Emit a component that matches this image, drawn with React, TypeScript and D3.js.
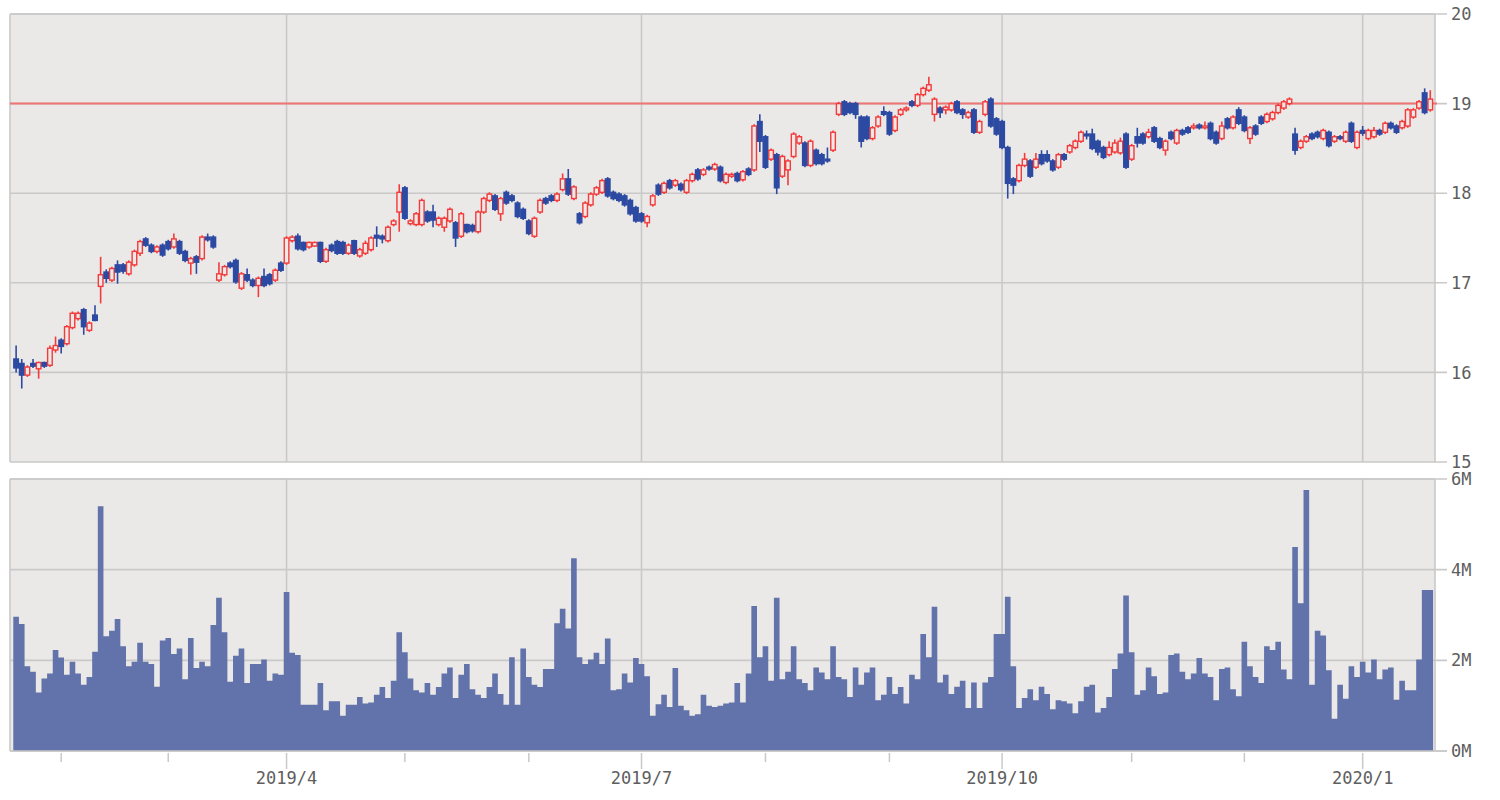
import React from "react";
import * as d3 from "d3";

// ---- Daily data (252 trading days, 2019/1/22 .. 2020/1/21) ----
const openP = [
  16.15,16.10,15.97,16.10,16.04,16.11,16.08,16.25,16.36,16.32,
  16.50,16.60,16.70,16.47,16.64,16.96,17.12,17.03,17.20,17.20,
  17.10,17.20,17.33,17.49,17.42,17.35,17.42,17.46,17.40,17.46,
  17.35,17.22,17.29,17.27,17.51,17.51,17.03,17.09,17.22,17.25,
  16.94,17.09,17.03,16.97,17.07,17.09,17.03,17.22,17.22,17.47,
  17.52,17.45,17.40,17.41,17.45,17.24,17.42,17.46,17.45,17.33,
  17.47,17.30,17.33,17.37,17.53,17.52,17.47,17.65,17.79,18.06,
  17.66,17.65,17.65,17.79,17.79,17.65,17.62,17.69,17.67,17.52,
  17.65,17.64,17.57,17.79,17.92,17.97,17.77,18.01,17.97,17.89,
  17.82,17.69,17.52,17.79,17.94,17.97,17.92,18.04,18.16,17.94,
  17.77,17.74,17.87,17.99,18.01,18.16,18.01,17.99,17.97,17.92,
  17.84,17.77,17.67,17.87,18.09,18.01,18.14,18.09,18.10,18.01,
  18.14,18.26,18.21,18.29,18.27,18.29,18.12,18.19,18.22,18.15,
  18.27,18.26,18.80,18.63,18.38,18.43,18.19,18.26,18.41,18.56,
  18.56,18.31,18.48,18.43,18.38,18.48,18.88,19.02,19.00,19.00,
  18.85,18.85,18.61,18.75,18.91,18.90,18.70,18.88,18.93,19.02,
  18.98,19.10,19.15,18.88,18.95,18.93,18.93,19.02,18.93,18.85,
  18.93,18.68,18.88,19.05,18.83,18.80,18.51,18.16,18.14,18.31,
  18.36,18.29,18.43,18.43,18.36,18.29,18.43,18.46,18.51,18.58,
  18.66,18.66,18.58,18.51,18.43,18.46,18.45,18.66,18.38,18.63,
  18.66,18.63,18.73,18.61,18.48,18.68,18.56,18.70,18.73,18.73,
  18.76,18.73,18.78,18.68,18.61,18.83,18.73,18.93,18.85,18.61,
  18.75,18.85,18.80,18.83,18.90,18.95,19.00,18.66,18.51,18.58,
  18.66,18.68,18.61,18.68,18.58,18.63,18.58,18.78,18.51,18.70,
  18.61,18.63,18.70,18.68,18.78,18.75,18.73,18.75,18.85,18.95,
  19.12,18.93,
];
const highP = [
  16.30,16.15,16.08,16.15,16.12,16.12,16.30,16.40,16.38,16.53,
  16.68,16.68,16.72,16.57,16.75,17.29,17.15,17.18,17.25,17.22,
  17.25,17.37,17.48,17.51,17.44,17.42,17.44,17.48,17.55,17.48,
  17.37,17.29,17.31,17.53,17.55,17.53,17.23,17.20,17.24,17.27,
  17.12,17.16,17.05,17.07,17.16,17.11,17.16,17.24,17.52,17.53,
  17.55,17.46,17.46,17.46,17.46,17.39,17.44,17.48,17.47,17.44,
  17.48,17.39,17.47,17.52,17.63,17.54,17.64,17.71,18.10,18.08,
  17.71,17.79,17.94,17.81,17.87,17.74,17.74,17.84,17.69,17.79,
  17.66,17.66,17.81,17.96,18.01,17.99,17.96,18.03,17.99,17.91,
  17.84,17.71,17.74,17.94,17.96,17.99,18.01,18.22,18.27,18.09,
  17.79,17.91,18.01,18.08,18.16,18.18,18.03,18.01,17.99,17.94,
  17.86,17.79,17.76,17.99,18.11,18.13,18.16,18.16,18.12,18.16,
  18.23,18.28,18.28,18.31,18.34,18.31,18.23,18.23,18.24,18.26,
  18.29,18.77,18.88,18.65,18.50,18.45,18.43,18.38,18.68,18.65,
  18.58,18.60,18.50,18.45,18.51,18.70,19.02,19.04,19.02,19.02,
  18.87,18.87,18.75,18.87,18.97,18.92,18.87,18.95,18.97,19.04,
  19.12,19.19,19.30,19.07,18.97,18.98,19.02,19.04,18.95,18.92,
  18.95,18.82,19.04,19.07,18.85,18.82,18.53,18.18,18.33,18.45,
  18.38,18.45,18.48,18.48,18.38,18.45,18.45,18.55,18.60,18.70,
  18.70,18.72,18.60,18.53,18.58,18.60,18.62,18.68,18.55,18.73,
  18.68,18.72,18.75,18.63,18.60,18.70,18.72,18.72,18.75,18.78,
  18.78,18.80,18.80,18.70,18.80,18.85,18.87,18.96,18.87,18.75,
  18.77,18.87,18.90,18.92,19.00,19.04,19.07,18.73,18.60,18.65,
  18.68,18.70,18.72,18.70,18.65,18.65,18.70,18.80,18.70,18.75,
  18.72,18.74,18.72,18.80,18.80,18.77,18.82,18.95,18.95,19.04,
  19.17,19.15,
];
const lowP = [
  16.00,15.82,15.95,16.05,15.93,16.05,16.06,16.22,16.21,16.30,
  16.48,16.58,16.42,16.45,16.57,16.77,17.00,17.01,16.99,17.10,
  17.08,17.18,17.30,17.40,17.33,17.33,17.29,17.36,17.38,17.31,
  17.23,17.09,17.10,17.25,17.46,17.38,17.01,17.07,17.16,16.99,
  16.92,17.01,16.95,16.84,16.95,16.97,17.01,17.12,17.20,17.45,
  17.36,17.35,17.38,17.40,17.22,17.22,17.34,17.31,17.31,17.31,
  17.31,17.28,17.31,17.35,17.40,17.44,17.45,17.63,17.57,17.70,
  17.64,17.63,17.63,17.67,17.62,17.63,17.57,17.67,17.40,17.50,
  17.55,17.56,17.55,17.77,17.90,17.80,17.69,17.87,17.90,17.72,
  17.70,17.53,17.50,17.77,17.87,17.90,17.90,18.02,17.97,17.92,
  17.65,17.72,17.85,17.97,17.99,17.95,17.92,17.90,17.85,17.75,
  17.67,17.67,17.62,17.85,17.97,17.99,18.04,18.07,18.02,17.99,
  18.12,18.14,18.19,18.25,18.25,18.12,18.10,18.17,18.12,18.13,
  18.19,18.24,18.46,18.27,18.36,17.99,18.17,18.09,18.39,18.54,
  18.29,18.29,18.31,18.31,18.34,18.46,18.86,18.86,18.88,18.83,
  18.51,18.59,18.59,18.73,18.86,18.64,18.68,18.86,18.91,18.96,
  18.96,19.08,19.13,18.80,18.84,18.88,18.91,18.88,18.83,18.83,
  18.66,18.66,18.86,18.73,18.64,18.49,17.94,17.99,18.12,18.29,
  18.17,18.27,18.31,18.34,18.24,18.27,18.36,18.44,18.49,18.56,
  18.60,18.48,18.42,18.38,18.41,18.44,18.43,18.27,18.36,18.51,
  18.54,18.61,18.56,18.49,18.42,18.59,18.54,18.64,18.66,18.71,
  18.71,18.71,18.59,18.54,18.59,18.71,18.71,18.76,18.68,18.55,
  18.64,18.76,18.78,18.81,18.88,18.93,18.98,18.43,18.49,18.56,
  18.59,18.61,18.59,18.51,18.56,18.59,18.56,18.56,18.49,18.64,
  18.59,18.61,18.64,18.66,18.71,18.66,18.71,18.73,18.83,18.93,
  18.88,18.91,
];
const closeP = [
  16.05,15.97,16.06,16.07,16.11,16.07,16.27,16.30,16.29,16.51,
  16.66,16.66,16.51,16.55,16.58,17.09,17.05,17.16,17.12,17.13,
  17.23,17.35,17.46,17.42,17.35,17.40,17.31,17.38,17.49,17.33,
  17.25,17.27,17.23,17.51,17.48,17.40,17.10,17.18,17.18,17.01,
  17.10,17.03,16.97,17.05,16.97,16.99,17.14,17.14,17.50,17.51,
  17.38,17.37,17.45,17.45,17.24,17.37,17.36,17.33,17.33,17.42,
  17.33,17.37,17.44,17.50,17.50,17.49,17.62,17.69,18.01,17.72,
  17.69,17.77,17.92,17.69,17.70,17.72,17.72,17.82,17.50,17.77,
  17.57,17.58,17.79,17.94,17.99,17.82,17.94,17.89,17.92,17.74,
  17.72,17.55,17.72,17.92,17.89,17.92,17.99,18.16,17.99,18.07,
  17.67,17.89,17.99,18.06,18.14,17.97,17.94,17.92,17.87,17.77,
  17.69,17.69,17.74,17.97,17.99,18.11,18.06,18.14,18.04,18.14,
  18.21,18.16,18.26,18.27,18.32,18.14,18.21,18.21,18.14,18.24,
  18.21,18.75,18.58,18.29,18.48,18.06,18.41,18.36,18.66,18.63,
  18.31,18.58,18.33,18.33,18.36,18.68,19.00,18.88,18.90,18.88,
  18.58,18.61,18.73,18.85,18.88,18.66,18.85,18.93,18.95,18.98,
  19.10,19.17,19.21,19.05,18.90,18.96,19.00,18.90,18.88,18.90,
  18.68,18.80,19.02,18.75,18.66,18.51,18.11,18.09,18.31,18.38,
  18.19,18.38,18.33,18.36,18.26,18.43,18.38,18.53,18.58,18.68,
  18.64,18.50,18.46,18.40,18.51,18.56,18.58,18.29,18.53,18.56,
  18.56,18.68,18.58,18.51,18.58,18.61,18.70,18.66,18.68,18.75,
  18.73,18.75,18.61,18.56,18.75,18.73,18.85,18.78,18.70,18.73,
  18.66,18.78,18.88,18.90,18.98,19.02,19.05,18.48,18.58,18.63,
  18.61,18.63,18.70,18.53,18.63,18.61,18.68,18.58,18.68,18.67,
  18.70,18.70,18.66,18.78,18.73,18.68,18.80,18.93,18.93,19.02,
  18.90,19.05,
];
// volume in millions of shares
const volumeM = [
  2.96,2.80,1.87,1.75,1.29,1.60,1.71,2.23,2.06,1.68,
  1.97,1.71,1.46,1.63,2.19,5.40,2.53,2.65,2.91,2.31,
  1.87,1.97,2.39,1.97,1.92,1.42,2.44,2.49,2.14,2.26,
  1.58,2.49,1.83,1.97,1.87,2.78,3.38,2.62,1.53,2.10,
  2.26,1.50,1.92,1.92,2.02,1.55,1.71,1.68,3.51,2.17,
  2.12,1.02,1.02,1.02,1.50,0.90,1.10,1.10,0.78,1.02,
  1.02,1.19,1.05,1.07,1.24,1.41,1.17,1.55,2.62,2.18,
  1.60,1.34,1.29,1.50,1.24,1.41,1.71,1.84,1.17,1.68,
  1.92,1.36,1.24,1.17,1.41,1.71,1.26,1.02,2.07,1.02,
  2.26,1.63,1.46,1.41,1.81,1.81,2.82,3.14,2.70,4.25,
  2.07,1.92,2.02,2.17,1.92,2.48,1.34,1.36,1.71,1.51,
  2.05,1.92,1.65,0.78,1.03,1.24,0.97,1.83,1.00,0.90,
  0.78,0.81,1.24,1.00,0.97,1.00,1.05,1.07,1.50,1.07,
  1.71,3.20,2.07,2.31,1.55,3.38,1.58,1.75,2.31,1.58,
  1.50,1.34,1.84,1.73,1.58,2.31,1.63,1.58,1.19,1.84,
  1.46,1.73,1.84,1.12,1.24,1.63,1.26,1.41,1.05,1.68,
  1.58,2.58,2.07,3.18,1.51,1.68,1.26,1.42,1.55,0.95,
  1.51,0.95,1.51,1.63,2.58,2.58,3.40,1.87,0.95,1.17,
  1.36,1.12,1.42,1.26,0.92,1.12,1.10,1.05,0.83,1.10,
  1.42,1.46,0.85,0.95,1.19,1.81,2.15,3.43,2.18,1.24,
  1.34,1.84,1.65,1.26,1.29,2.12,2.15,1.75,1.58,1.71,
  2.05,1.71,1.63,1.12,1.81,1.84,1.36,1.21,2.41,1.87,
  1.63,1.50,2.31,2.23,2.41,1.80,1.58,4.50,3.26,5.76,
  1.46,2.65,2.55,1.78,0.71,1.46,1.15,1.87,1.63,1.97,
  1.73,2.02,1.58,1.80,1.84,1.13,1.55,1.34,1.34,2.02,
  3.55,3.55,
];
// index of first trading day of each month, and labels (quarters only)
const monthTickIdx = [8, 27, 48, 69, 91, 111, 133, 155, 175, 198, 218, 239];
const monthTickLabels = ["", "", "2019/4", "", "", "2019/7", "", "", "2019/10", "", "", "2020/1"];
const priceTicks = [15, 16, 17, 18, 19, 20];
const volumeTicks = [0, 2, 4, 6];
const refLevel = 19;

const BG = "#ebe9e7";
const GRID = "#c9c9c9";
const UP = "#f23b3b";
const DOWN = "#2c4aa2";
const VOL = "#6272aa";
const TXT = "#5e5e5e";
const FONT = "'DejaVu Sans Mono', 'Liberation Mono', monospace";

export default function App() {
  const L = 10, R = 1435;
  const pTop = 14, pBot = 462, vTop = 479, vBot = 751;
  const n = openP.length;
  const idx = d3.range(n);

  const x = d3.scaleBand<number>().domain(idx).range([13.3, 1433.1]).padding(0);
  const bw = x.bandwidth();
  const cx = (i: number) => (x(i) as number) + bw / 2;
  const y = d3.scaleLinear().domain([15, 20]).range([pBot, pTop]);
  const yv = d3.scaleLinear().domain([0, 6]).range([vBot, vTop]);

  const body = 4.6;
  const quarterIdx = monthTickIdx.filter((_, k) => monthTickLabels[k] !== "");

  // volume as one stepped area (no seams between bars)
  const volPts: [number, number][] = idx.map((i) => [x(i) as number, volumeM[i]]);
  volPts.push([(x(n - 1) as number) + bw, volumeM[n - 1]]);
  const volArea = d3
    .area<[number, number]>()
    .x((d) => d[0])
    .y0(vBot)
    .y1((d) => yv(d[1]))
    .curve(d3.curveStepAfter)(volPts) as string;

  return (
    <svg
      width={1500}
      height={800}
      style={{ position: "absolute", left: 0, top: 0, background: "#fff" }}
    >
      {/* ---------- price panel ---------- */}
      <rect x={L} y={pTop} width={R - L} height={pBot - pTop} fill={BG} />
      {priceTicks.map((t) => (
        <line key={"pg" + t} x1={L} x2={R + 12} y1={y(t)} y2={y(t)} stroke={GRID} strokeWidth={1.6} />
      ))}
      {quarterIdx.map((i) => (
        <line key={"pv" + i} x1={cx(i)} x2={cx(i)} y1={pTop} y2={pBot} stroke={GRID} strokeWidth={1.6} />
      ))}
      <line x1={L} x2={R} y1={pTop} y2={pTop} stroke={GRID} strokeWidth={1.6} />
      <line x1={L} x2={L} y1={pTop} y2={pBot} stroke={GRID} strokeWidth={1.6} />
      <line x1={R} x2={R} y1={pTop} y2={pBot} stroke={GRID} strokeWidth={1.6} />
      <line x1={L} x2={R + 2} y1={y(refLevel)} y2={y(refLevel)} stroke="#f07474" strokeWidth={2} />

      {idx.map((i) => {
        const o = openP[i], c = closeP[i], h = highP[i], l = lowP[i];
        const up = c >= o;
        const col = up ? UP : DOWN;
        const top = y(Math.max(o, c));
        const hgt = Math.max(1.5, y(Math.min(o, c)) - top);
        return (
          <g key={"c" + i}>
            <line x1={cx(i)} x2={cx(i)} y1={y(h)} y2={y(l)} stroke={col} strokeWidth={1.6} />
            <rect
              x={cx(i) - body / 2}
              y={top}
              width={body}
              height={hgt}
              fill={up ? BG : col}
              stroke={col}
              strokeWidth={1.4}
            />
          </g>
        );
      })}

      {priceTicks.map((t) => (
        <text
          key={"pl" + t}
          x={1451}
          y={y(t)}
          dy="0.36em"
          fontFamily={FONT}
          fontSize={17}
          fill={TXT}
        >
          {t}
        </text>
      ))}

      {/* ---------- volume panel ---------- */}
      <rect x={L} y={vTop} width={R - L} height={vBot - vTop} fill={BG} />
      {volumeTicks.map((t) => (
        <line key={"vg" + t} x1={L} x2={R + 12} y1={yv(t)} y2={yv(t)} stroke={GRID} strokeWidth={1.6} />
      ))}
      {quarterIdx.map((i) => (
        <line key={"vv" + i} x1={cx(i)} x2={cx(i)} y1={vTop} y2={vBot} stroke={GRID} strokeWidth={1.6} />
      ))}
      <path d={volArea} fill={VOL} />
      <line x1={L} x2={R} y1={vTop} y2={vTop} stroke={GRID} strokeWidth={1.6} />
      <line x1={L} x2={L} y1={vTop} y2={vBot} stroke={GRID} strokeWidth={1.6} />
      <line x1={R} x2={R} y1={vTop} y2={vBot} stroke={GRID} strokeWidth={1.6} />
      <line x1={L} x2={R + 12} y1={vBot} y2={vBot} stroke={GRID} strokeWidth={1.6} />

      {volumeTicks.map((t) => (
        <text
          key={"vl" + t}
          x={1451}
          y={yv(t)}
          dy="0.36em"
          fontFamily={FONT}
          fontSize={17}
          fill={TXT}
        >
          {t + "M"}
        </text>
      ))}

      {/* ---------- x axis ---------- */}
      {monthTickIdx.map((i, k) => (
        <line
          key={"mt" + i}
          x1={cx(i)}
          x2={cx(i)}
          y1={vBot + 2}
          y2={monthTickLabels[k] ? vBot + 18 : vBot + 11}
          stroke={GRID}
          strokeWidth={1.5}
        />
      ))}
      {monthTickIdx.map((i, k) =>
        monthTickLabels[k] ? (
          <text
            key={"ml" + i}
            x={cx(i)}
            y={784}
            textAnchor="middle"
            fontFamily={FONT}
            fontSize={17}
            fill={TXT}
          >
            {monthTickLabels[k]}
          </text>
        ) : null
      )}
    </svg>
  );
}
